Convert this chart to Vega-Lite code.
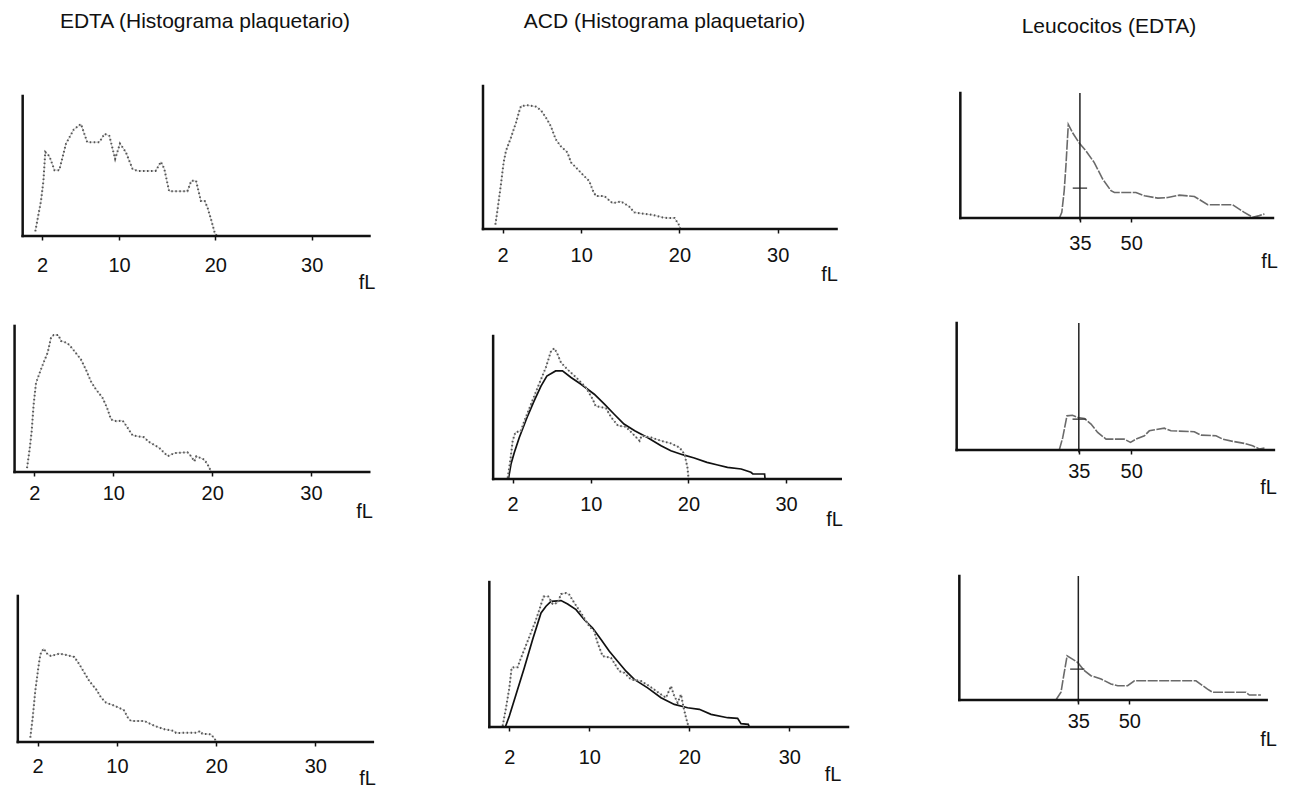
{
"$schema": "https://vega.github.io/schema/vega-lite/v6.json",
"background": "white",
"padding": {"left": 12, "top": 11, "right": 5, "bottom": 0},
"columns": 3,
"align": "each",
"bounds": "flush",
"spacing": {"row": 80, "column": 116},
"config": {
  "view": {"stroke": null},
  "font": "Liberation Sans",
  "axis": {"grid": false, "domain": false, "labelFont": "Liberation Sans", "labelFontSize": 20, "labelColor": "#111", "titleFont": "Liberation Sans", "titleFontSize": 20, "titleFontWeight": "normal", "titleColor": "#111", "tickColor": "#111", "tickWidth": 1.5, "tickSize": 4, "labelFlush": false, "labelOverlap": false},
  "axisX": {"titleAnchor": "end"},
  "title": {"font": "Liberation Sans", "fontSize": 21, "fontWeight": "normal", "color": "#111", "baseline": "alphabetic", "anchor": "middle", "frame": "group"}
},
"datasets": {
  "p1": [{"fL":1.31,"n":3.3},{"fL":1.9,"n":25},{"fL":2.15,"n":39},{"fL":2.35,"n":60},{"fL":2.77,"n":57},{"fL":3.3,"n":47},{"fL":3.8,"n":47},{"fL":4.5,"n":66},{"fL":5.3,"n":76},{"fL":6.05,"n":80},{"fL":6.7,"n":67},{"fL":7.96,"n":67},{"fL":8.5,"n":73},{"fL":9.0,"n":71.5},{"fL":9.6,"n":55},{"fL":10.1,"n":66},{"fL":10.7,"n":60},{"fL":11.4,"n":48},{"fL":11.9,"n":46.5},{"fL":13.8,"n":46.5},{"fL":14.35,"n":53},{"fL":14.7,"n":48},{"fL":15.2,"n":32},{"fL":17.1,"n":32},{"fL":17.5,"n":39.4},{"fL":18.0,"n":39.4},{"fL":18.5,"n":25},{"fL":18.9,"n":25},{"fL":19.2,"n":20},{"fL":19.55,"n":12},{"fL":19.97,"n":1.4},{"fL":20.2,"n":0}],
  "p2": [{"fL":1.26,"n":3},{"fL":1.49,"n":14},{"fL":1.83,"n":31.4},{"fL":2.1,"n":46.5},{"fL":2.34,"n":54.7},{"fL":2.85,"n":64},{"fL":3.36,"n":74.4},{"fL":3.7,"n":82.6},{"fL":3.87,"n":86},{"fL":4.55,"n":86.5},{"fL":5.4,"n":85.6},{"fL":5.9,"n":83},{"fL":6.4,"n":78},{"fL":6.9,"n":72},{"fL":7.4,"n":62.8},{"fL":7.9,"n":58},{"fL":8.6,"n":53.5},{"fL":8.96,"n":46.5},{"fL":9.47,"n":43},{"fL":10.3,"n":37},{"fL":10.8,"n":33.7},{"fL":11.2,"n":26.7},{"fL":11.5,"n":23},{"fL":12.36,"n":23},{"fL":13.2,"n":18},{"fL":14.05,"n":19.3},{"fL":14.9,"n":15.6},{"fL":15.4,"n":11.6},{"fL":17.3,"n":9.8},{"fL":18.3,"n":8.1},{"fL":18.8,"n":7.7},{"fL":19.5,"n":7.7},{"fL":19.9,"n":3.5},{"fL":20.1,"n":0}],
  "p3": [{"fL":29,"n":0},{"fL":29.7,"n":4.5},{"fL":30.4,"n":21.8},{"fL":30.9,"n":41.6},{"fL":31.6,"n":74.8},{"fL":32.9,"n":68},{"fL":34.8,"n":60},{"fL":36.8,"n":53.6},{"fL":39.2,"n":44.3},{"fL":41.7,"n":31},{"fL":44.1,"n":21.8},{"fL":45.1,"n":20.4},{"fL":51.4,"n":20.4},{"fL":53.9,"n":17.8},{"fL":57.8,"n":15.9},{"fL":60.7,"n":16.4},{"fL":64.1,"n":18.3},{"fL":68.5,"n":17.2},{"fL":72.4,"n":10.6},{"fL":79.7,"n":10.6},{"fL":83.1,"n":4.5},{"fL":85.6,"n":0.5},{"fL":87.5,"n":1.9},{"fL":89,"n":3.2}],
  "p4": [{"fL":1.26,"n":2.7},{"fL":1.5,"n":14.2},{"fL":1.73,"n":27.9},{"fL":1.93,"n":46.2},{"fL":2.17,"n":61},{"fL":2.6,"n":69},{"fL":3.0,"n":76},{"fL":3.35,"n":81.7},{"fL":3.69,"n":92},{"fL":3.96,"n":93.8},{"fL":4.43,"n":93.8},{"fL":4.7,"n":89.7},{"fL":5.2,"n":88.6},{"fL":5.54,"n":87},{"fL":6.05,"n":82.8},{"fL":6.72,"n":77},{"fL":7.23,"n":70},{"fL":7.73,"n":62},{"fL":8.24,"n":56.5},{"fL":8.9,"n":50.8},{"fL":9.36,"n":44},{"fL":9.76,"n":36},{"fL":10.3,"n":34.8},{"fL":10.94,"n":35.2},{"fL":11.45,"n":30.2},{"fL":11.95,"n":25},{"fL":13.1,"n":23.8},{"fL":13.6,"n":20.6},{"fL":14.65,"n":16.5},{"fL":15.5,"n":10.8},{"fL":16.2,"n":13},{"fL":17.5,"n":13.5},{"fL":17.86,"n":10.8},{"fL":18.2,"n":7.3},{"fL":18.4,"n":10.8},{"fL":19.2,"n":8.5},{"fL":19.55,"n":5},{"fL":19.8,"n":1.6},{"fL":19.95,"n":0}],
  "p5dot": [{"fL":1.49,"n":0.7},{"fL":1.76,"n":12.8},{"fL":2.0,"n":26.7},{"fL":2.27,"n":32.6},{"fL":2.85,"n":33.7},{"fL":3.2,"n":40.7},{"fL":3.88,"n":52.3},{"fL":4.56,"n":64},{"fL":5.4,"n":78},{"fL":5.93,"n":89.5},{"fL":6.27,"n":91.4},{"fL":6.6,"n":87.2},{"fL":6.95,"n":81.4},{"fL":7.6,"n":76.7},{"fL":8.5,"n":71},{"fL":9.5,"n":64},{"fL":10.2,"n":55.8},{"fL":10.5,"n":51},{"fL":11.56,"n":49.5},{"fL":12.1,"n":43},{"fL":12.8,"n":37.2},{"fL":13.6,"n":36.5},{"fL":14.5,"n":30.2},{"fL":15.0,"n":26.7},{"fL":15.2,"n":30.2},{"fL":16.2,"n":29},{"fL":17.2,"n":26.7},{"fL":18.2,"n":24.9},{"fL":19.1,"n":22},{"fL":19.6,"n":17.4},{"fL":19.9,"n":8.1},{"fL":20.0,"n":1.2}],
  "p5fit": [{"fL":1.56,"n":0},{"fL":1.83,"n":10.5},{"fL":2.17,"n":18.6},{"fL":2.68,"n":29},{"fL":3.54,"n":44.2},{"fL":4.2,"n":54.6},{"fL":4.9,"n":65},{"fL":5.5,"n":72},{"fL":6.4,"n":75.6},{"fL":7.1,"n":75.6},{"fL":7.98,"n":71},{"fL":9.0,"n":66.3},{"fL":9.68,"n":62.8},{"fL":10.36,"n":59.3},{"fL":11.4,"n":52.3},{"fL":12.4,"n":45.3},{"fL":13.4,"n":38.4},{"fL":14.5,"n":33.7},{"fL":15.8,"n":29},{"fL":17.2,"n":23.3},{"fL":18.2,"n":19.8},{"fL":19.4,"n":17},{"fL":20.6,"n":14.7},{"fL":21.9,"n":11.6},{"fL":23.0,"n":9.8},{"fL":24,"n":8.1},{"fL":25.4,"n":7},{"fL":26.4,"n":4.7},{"fL":26.6,"n":3.5},{"fL":27.8,"n":3.5},{"fL":27.85,"n":0}],
  "p6": [{"fL":29.4,"n":0},{"fL":30.4,"n":9.9},{"fL":31.6,"n":26.9},{"fL":33.2,"n":27.4},{"fL":34.7,"n":25.6},{"fL":36.6,"n":24.8},{"fL":38.5,"n":20.4},{"fL":40.4,"n":13.8},{"fL":42.8,"n":8.6},{"fL":48,"n":8.6},{"fL":49.8,"n":6},{"fL":51.4,"n":8.6},{"fL":53.8,"n":11.2},{"fL":55.2,"n":15.1},{"fL":59.5,"n":17.2},{"fL":61.4,"n":15.1},{"fL":68.1,"n":14.4},{"fL":70,"n":11.7},{"fL":74.3,"n":11.2},{"fL":76.2,"n":8.6},{"fL":79.1,"n":6.8},{"fL":82.4,"n":5.2},{"fL":84.8,"n":3.4},{"fL":86.7,"n":0.8},{"fL":88.2,"n":1.6}],
  "p7": [{"fL":1.26,"n":3},{"fL":1.5,"n":16.7},{"fL":1.76,"n":35},{"fL":2.07,"n":51},{"fL":2.27,"n":60},{"fL":2.6,"n":64},{"fL":3.0,"n":60},{"fL":3.34,"n":58.9},{"fL":4.18,"n":60.5},{"fL":5.0,"n":59.4},{"fL":5.7,"n":58.2},{"fL":6.2,"n":53.2},{"fL":6.7,"n":47.5},{"fL":7.2,"n":41.8},{"fL":7.9,"n":36},{"fL":8.4,"n":30.4},{"fL":8.9,"n":26.9},{"fL":9.56,"n":25.3},{"fL":10.2,"n":23.5},{"fL":10.7,"n":21.7},{"fL":11.1,"n":16.7},{"fL":11.4,"n":14.4},{"fL":12.75,"n":14.4},{"fL":13.8,"n":11},{"fL":14.8,"n":8.7},{"fL":15.8,"n":7.5},{"fL":15.95,"n":6.2},{"fL":18,"n":6.4},{"fL":18.4,"n":7.5},{"fL":18.6,"n":5.7},{"fL":19.5,"n":5.2},{"fL":20,"n":0.7}],
  "p8dot": [{"fL":1.33,"n":0.7},{"fL":1.67,"n":13.3},{"fL":2.0,"n":27},{"fL":2.23,"n":40.8},{"fL":2.5,"n":41.3},{"fL":2.83,"n":41.3},{"fL":3.17,"n":47.7},{"fL":3.83,"n":59.2},{"fL":4.67,"n":74},{"fL":5.43,"n":90},{"fL":5.9,"n":90},{"fL":6.33,"n":84.9},{"fL":6.83,"n":85.6},{"fL":7.17,"n":91.7},{"fL":7.67,"n":92.4},{"fL":8.0,"n":91.3},{"fL":8.5,"n":85.6},{"fL":9.17,"n":78.7},{"fL":10.0,"n":69.5},{"fL":10.5,"n":66},{"fL":10.83,"n":58},{"fL":11.33,"n":48.9},{"fL":12.17,"n":47.7},{"fL":13.0,"n":38.5},{"fL":13.5,"n":37.4},{"fL":14.17,"n":32.8},{"fL":15.17,"n":31.7},{"fL":16.0,"n":28.2},{"fL":17.17,"n":22.5},{"fL":17.67,"n":20.2},{"fL":18.17,"n":28.2},{"fL":18.43,"n":22.5},{"fL":18.83,"n":16.7},{"fL":19.17,"n":22.5},{"fL":19.43,"n":13.3},{"fL":19.67,"n":6.4},{"fL":19.9,"n":0.7}],
  "p8fit": [{"fL":1.6,"n":0},{"fL":2.0,"n":7.6},{"fL":2.67,"n":22.5},{"fL":3.5,"n":40.8},{"fL":4.33,"n":60.3},{"fL":5.17,"n":78.7},{"fL":5.67,"n":83.3},{"fL":6.17,"n":86.7},{"fL":7.17,"n":87.2},{"fL":7.83,"n":84.9},{"fL":8.67,"n":81},{"fL":9.5,"n":74},{"fL":10.33,"n":68.3},{"fL":11.17,"n":60.3},{"fL":12.0,"n":52.3},{"fL":12.83,"n":45.4},{"fL":13.67,"n":38.5},{"fL":14.5,"n":32.8},{"fL":15.83,"n":27},{"fL":17.17,"n":20.2},{"fL":18.5,"n":15.6},{"fL":19.83,"n":13.3},{"fL":21,"n":12.2},{"fL":22.17,"n":8.7},{"fL":23.83,"n":6.4},{"fL":24.83,"n":6},{"fL":25.17,"n":2.3},{"fL":25.9,"n":1.8},{"fL":26,"n":0}],
  "p9": [{"fL":28.4,"n":0},{"fL":29.9,"n":6.2},{"fL":30.7,"n":19.6},{"fL":31.7,"n":35.7},{"fL":32.8,"n":33.8},{"fL":34.8,"n":30.3},{"fL":36.8,"n":23.6},{"fL":38.7,"n":19.6},{"fL":41.7,"n":16.9},{"fL":44.6,"n":12.9},{"fL":46.6,"n":11.5},{"fL":49.5,"n":11.5},{"fL":51.5,"n":15.5},{"fL":60.3,"n":15.5},{"fL":69.6,"n":15.5},{"fL":73,"n":8.8},{"fL":74.5,"n":6.2},{"fL":84.3,"n":6.2},{"fL":85.3,"n":4},{"fL":88.7,"n":4}],
  "m3": [{"fL":32.9,"fL2":37.1,"n":23.9}],
  "m6": [{"fL":33.2,"fL2":37.1,"n":24.3}],
  "m9": [{"fL":32.6,"fL2":36.8,"n":24.9}]
},
"concat": [
  {"width": 352.5, "height": 155,
   "title": {"text": "EDTA (Histograma plaquetario)", "offset": 49, "dx": 14.75},
   "layer": [
    {"data": {"name": "p1"}, "mark": {"type": "line", "color": "#c8c8c8", "strokeWidth": 1},
     "encoding": {"x": {"field": "fL", "type": "quantitative", "scale": {"domain": [-0.9, 35.69], "nice": false, "zero": false}, "axis": {"values": [2, 10, 20, 30], "labelPadding": 15.5, "titlePadding": -3, "titleAlign": "center", "title": "fL"}},
                  "y": {"field": "n", "type": "quantitative", "scale": {"domain": [0, 110.7], "nice": false, "zero": false}, "axis": null}}},
    {"data": {"name": "p1"}, "mark": {"type": "line", "color": "#555", "strokeWidth": 2, "strokeDash": [1.5, 2.5]},
     "encoding": {"x": {"field": "fL", "type": "quantitative"}, "y": {"field": "n", "type": "quantitative", "axis": null}}},
    {"data": {"values": [{}]}, "mark": {"type": "rule", "color": "#111", "strokeWidth": 2.5, "strokeCap": "square"},
     "encoding": {"x": {"datum": 0, "type": "quantitative"}, "y": {"datum": 0, "type": "quantitative", "axis": null}, "y2": {"datum": 100}}},
    {"data": {"values": [{}]}, "mark": {"type": "rule", "color": "#111", "strokeWidth": 2.5, "strokeCap": "square"},
     "encoding": {"x": {"datum": 0, "type": "quantitative"}, "x2": {"datum": 36}, "y": {"datum": 0, "type": "quantitative", "axis": null}}}
   ]},
  {"width": 346, "height": 148,
   "title": {"text": "ACD (Histograma plaquetario)", "offset": 49, "dx": 8.5},
   "layer": [
    {"data": {"name": "p2"}, "mark": {"type": "line", "color": "#c8c8c8", "strokeWidth": 1},
     "encoding": {"x": {"field": "fL", "type": "quantitative", "scale": {"domain": [0, 35.23], "nice": false, "zero": false}, "axis": {"values": [2, 10, 20, 30], "labelPadding": 12.5, "titlePadding": -1, "titleAlign": "center", "title": "fL"}},
                  "y": {"field": "n", "type": "quantitative", "scale": {"domain": [0, 103.5], "nice": false, "zero": false}, "axis": null}}},
    {"data": {"name": "p2"}, "mark": {"type": "line", "color": "#555", "strokeWidth": 2, "strokeDash": [1.5, 2.5]},
     "encoding": {"x": {"field": "fL", "type": "quantitative"}, "y": {"field": "n", "type": "quantitative", "axis": null}}},
    {"data": {"values": [{}]}, "mark": {"type": "rule", "color": "#111", "strokeWidth": 2.5, "strokeCap": "square"},
     "encoding": {"x": {"datum": 0, "type": "quantitative"}, "y": {"datum": 0, "type": "quantitative", "axis": null}, "y2": {"datum": 100}}},
    {"data": {"values": [{}]}, "mark": {"type": "rule", "color": "#111", "strokeWidth": 2.5, "strokeCap": "square"},
     "encoding": {"x": {"datum": 0, "type": "quantitative"}, "x2": {"datum": 36}, "y": {"datum": 0, "type": "quantitative", "axis": null}}}
   ]},
  {"width": 312, "height": 137,
   "title": {"text": "Leucocitos (EDTA)", "offset": 44, "dx": -4},
   "layer": [
    {"data": {"name": "p3"}, "mark": {"type": "line", "color": "#6a6a6a", "strokeWidth": 1.6, "strokeDash": [10, 1.5]},
     "encoding": {"x": {"field": "fL", "type": "quantitative", "scale": {"domain": [-0.975, 90.34], "nice": false, "zero": false}, "axis": {"values": [35, 50], "labelPadding": 11.5, "titlePadding": -2, "titleAlign": "center", "title": "fL"}},
                  "y": {"field": "n", "type": "quantitative", "scale": {"domain": [0, 109.6], "nice": false, "zero": false}, "axis": null}}},
    {"data": {"name": "m3"}, "mark": {"type": "rule", "color": "#333", "strokeWidth": 1.3},
     "encoding": {"x": {"field": "fL", "type": "quantitative"}, "x2": {"field": "fL2"}, "y": {"field": "n", "type": "quantitative", "axis": null}}},
    {"data": {"values": [{}]}, "mark": {"type": "rule", "color": "#222", "strokeWidth": 1.5},
     "encoding": {"x": {"datum": 35, "type": "quantitative"}, "y": {"datum": -2, "type": "quantitative", "axis": null}, "y2": {"datum": 100}}},
    {"data": {"values": [{}]}, "mark": {"type": "rule", "color": "#111", "strokeWidth": 2.5, "strokeCap": "square"},
     "encoding": {"x": {"datum": 0, "type": "quantitative"}, "y": {"datum": 0, "type": "quantitative", "axis": null}, "y2": {"datum": 100}}},
    {"data": {"values": [{}]}, "mark": {"type": "rule", "color": "#111", "strokeWidth": 2.5, "strokeCap": "square"},
     "encoding": {"x": {"datum": 0, "type": "quantitative"}, "x2": {"datum": 91.5}, "y": {"datum": 0, "type": "quantitative", "axis": null}}}
   ]},
  {"width": 350, "height": 156,
   "layer": [
    {"data": {"name": "p4"}, "mark": {"type": "line", "color": "#c8c8c8", "strokeWidth": 1},
     "encoding": {"x": {"field": "fL", "type": "quantitative", "scale": {"domain": [-0.058, 35.37], "nice": false, "zero": false}, "axis": {"values": [2, 10, 20, 30], "labelPadding": 7.5, "titlePadding": -2, "titleAlign": "center", "title": "fL"}},
                  "y": {"field": "n", "type": "quantitative", "scale": {"domain": [0, 106.8], "nice": false, "zero": false}, "axis": null}}},
    {"data": {"name": "p4"}, "mark": {"type": "line", "color": "#555", "strokeWidth": 2, "strokeDash": [1.5, 2.5]},
     "encoding": {"x": {"field": "fL", "type": "quantitative"}, "y": {"field": "n", "type": "quantitative", "axis": null}}},
    {"data": {"values": [{}]}, "mark": {"type": "rule", "color": "#111", "strokeWidth": 2.5, "strokeCap": "square"},
     "encoding": {"x": {"datum": 0, "type": "quantitative"}, "y": {"datum": 0, "type": "quantitative", "axis": null}, "y2": {"datum": 100}}},
    {"data": {"values": [{}]}, "mark": {"type": "rule", "color": "#111", "strokeWidth": 2.5, "strokeCap": "square"},
     "encoding": {"x": {"datum": 0, "type": "quantitative"}, "x2": {"datum": 35.9}, "y": {"datum": 0, "type": "quantitative", "axis": null}}}
   ]},
  {"width": 351, "height": 163,
   "layer": [
    {"data": {"name": "p5fit"}, "mark": {"type": "line", "color": "#111", "strokeWidth": 1.7},
     "encoding": {"x": {"field": "fL", "type": "quantitative", "scale": {"domain": [-1.038, 34.91], "nice": false, "zero": false}, "axis": {"values": [2, 10, 20, 30], "labelPadding": 11.5, "titlePadding": -5, "titleAlign": "center", "title": "fL"}},
                  "y": {"field": "n", "type": "quantitative", "scale": {"domain": [0, 114.0], "nice": false, "zero": false}, "axis": null}}},
    {"data": {"name": "p5dot"}, "mark": {"type": "line", "color": "#c8c8c8", "strokeWidth": 1},
     "encoding": {"x": {"field": "fL", "type": "quantitative"}, "y": {"field": "n", "type": "quantitative", "axis": null}}},
    {"data": {"name": "p5dot"}, "mark": {"type": "line", "color": "#555", "strokeWidth": 2, "strokeDash": [1.5, 2.5]},
     "encoding": {"x": {"field": "fL", "type": "quantitative"}, "y": {"field": "n", "type": "quantitative", "axis": null}}},
    {"data": {"values": [{}]}, "mark": {"type": "rule", "color": "#111", "strokeWidth": 2.5, "strokeCap": "square"},
     "encoding": {"x": {"datum": 0, "type": "quantitative"}, "y": {"datum": 0, "type": "quantitative", "axis": null}, "y2": {"datum": 100}}},
    {"data": {"values": [{}]}, "mark": {"type": "rule", "color": "#111", "strokeWidth": 2.5, "strokeCap": "square"},
     "encoding": {"x": {"datum": 0, "type": "quantitative"}, "x2": {"datum": 35.6}, "y": {"datum": 0, "type": "quantitative", "axis": null}}}
   ]},
  {"width": 311, "height": 134,
   "layer": [
    {"data": {"name": "p6"}, "mark": {"type": "line", "color": "#6a6a6a", "strokeWidth": 1.6, "strokeDash": [10, 1.5]},
     "encoding": {"x": {"field": "fL", "type": "quantitative", "scale": {"domain": [0.095, 89.21], "nice": false, "zero": false}, "axis": {"values": [35, 50], "labelPadding": 7.5, "titlePadding": -4, "titleAlign": "center", "title": "fL"}},
                  "y": {"field": "n", "type": "quantitative", "scale": {"domain": [0, 105.5], "nice": false, "zero": false}, "axis": null}}},
    {"data": {"name": "m6"}, "mark": {"type": "rule", "color": "#333", "strokeWidth": 1.3},
     "encoding": {"x": {"field": "fL", "type": "quantitative"}, "x2": {"field": "fL2"}, "y": {"field": "n", "type": "quantitative", "axis": null}}},
    {"data": {"values": [{}]}, "mark": {"type": "rule", "color": "#222", "strokeWidth": 1.5},
     "encoding": {"x": {"datum": 35, "type": "quantitative"}, "y": {"datum": -2, "type": "quantitative", "axis": null}, "y2": {"datum": 100}}},
    {"data": {"values": [{}]}, "mark": {"type": "rule", "color": "#111", "strokeWidth": 2.5, "strokeCap": "square"},
     "encoding": {"x": {"datum": 0, "type": "quantitative"}, "y": {"datum": 0, "type": "quantitative", "axis": null}, "y2": {"datum": 100}}},
    {"data": {"values": [{}]}, "mark": {"type": "rule", "color": "#111", "strokeWidth": 2.5, "strokeCap": "square"},
     "encoding": {"x": {"datum": 0, "type": "quantitative"}, "x2": {"datum": 90.9}, "y": {"datum": 0, "type": "quantitative", "axis": null}}}
   ]},
  {"width": 353, "height": 183,
   "layer": [
    {"data": {"name": "p7"}, "mark": {"type": "line", "color": "#c8c8c8", "strokeWidth": 1},
     "encoding": {"x": {"field": "fL", "type": "quantitative", "scale": {"domain": [-0.386, 35.21], "nice": false, "zero": false}, "axis": {"values": [2, 10, 20, 30], "labelPadding": 10.5, "titlePadding": -8, "titleAlign": "center", "title": "fL"}},
                  "y": {"field": "n", "type": "quantitative", "scale": {"domain": [0, 125.3], "nice": false, "zero": false}, "axis": null}}},
    {"data": {"name": "p7"}, "mark": {"type": "line", "color": "#555", "strokeWidth": 2, "strokeDash": [1.5, 2.5]},
     "encoding": {"x": {"field": "fL", "type": "quantitative"}, "y": {"field": "n", "type": "quantitative", "axis": null}}},
    {"data": {"values": [{}]}, "mark": {"type": "rule", "color": "#111", "strokeWidth": 2.5, "strokeCap": "square"},
     "encoding": {"x": {"datum": 0, "type": "quantitative"}, "y": {"datum": 0, "type": "quantitative", "axis": null}, "y2": {"datum": 100}}},
    {"data": {"values": [{}]}, "mark": {"type": "rule", "color": "#111", "strokeWidth": 2.5, "strokeCap": "square"},
     "encoding": {"x": {"datum": 0, "type": "quantitative"}, "x2": {"datum": 35.8}, "y": {"datum": 0, "type": "quantitative", "axis": null}}}
   ]},
  {"width": 358, "height": 168,
   "layer": [
    {"data": {"name": "p8fit"}, "mark": {"type": "line", "color": "#111", "strokeWidth": 1.7},
     "encoding": {"x": {"field": "fL", "type": "quantitative", "scale": {"domain": [-0.633, 35.17], "nice": false, "zero": false}, "axis": {"values": [2, 10, 20, 30], "labelPadding": 16.5, "titlePadding": -3, "titleAlign": "right", "title": "fL"}},
                  "y": {"field": "n", "type": "quantitative", "scale": {"domain": [0, 115.9], "nice": false, "zero": false}, "axis": null}}},
    {"data": {"name": "p8dot"}, "mark": {"type": "line", "color": "#c8c8c8", "strokeWidth": 1},
     "encoding": {"x": {"field": "fL", "type": "quantitative"}, "y": {"field": "n", "type": "quantitative", "axis": null}}},
    {"data": {"name": "p8dot"}, "mark": {"type": "line", "color": "#555", "strokeWidth": 2, "strokeDash": [1.5, 2.5]},
     "encoding": {"x": {"field": "fL", "type": "quantitative"}, "y": {"field": "n", "type": "quantitative", "axis": null}}},
    {"data": {"values": [{}]}, "mark": {"type": "rule", "color": "#111", "strokeWidth": 2.5, "strokeCap": "square"},
     "encoding": {"x": {"datum": 0, "type": "quantitative"}, "y": {"datum": 0, "type": "quantitative", "axis": null}, "y2": {"datum": 100}}},
    {"data": {"values": [{}]}, "mark": {"type": "rule", "color": "#111", "strokeWidth": 2.5, "strokeCap": "square"},
     "encoding": {"x": {"datum": 0, "type": "quantitative"}, "x2": {"datum": 35.87}, "y": {"datum": 0, "type": "quantitative", "axis": null}}}
   ]},
  {"width": 311, "height": 141,
   "layer": [
    {"data": {"name": "p9"}, "mark": {"type": "line", "color": "#6a6a6a", "strokeWidth": 1.6, "strokeDash": [10, 1.5]},
     "encoding": {"x": {"field": "fL", "type": "quantitative", "scale": {"domain": [-0.685, 90.79], "nice": false, "zero": false}, "axis": {"values": [35, 50], "labelPadding": 7.5, "titlePadding": -2, "titleAlign": "center", "title": "fL"}},
                  "y": {"field": "n", "type": "quantitative", "scale": {"domain": [0, 113.7], "nice": false, "zero": false}, "axis": null}}},
    {"data": {"name": "m9"}, "mark": {"type": "rule", "color": "#333", "strokeWidth": 1.3},
     "encoding": {"x": {"field": "fL", "type": "quantitative"}, "x2": {"field": "fL2"}, "y": {"field": "n", "type": "quantitative", "axis": null}}},
    {"data": {"values": [{}]}, "mark": {"type": "rule", "color": "#222", "strokeWidth": 1.5},
     "encoding": {"x": {"datum": 35, "type": "quantitative"}, "y": {"datum": -2, "type": "quantitative", "axis": null}, "y2": {"datum": 100}}},
    {"data": {"values": [{}]}, "mark": {"type": "rule", "color": "#111", "strokeWidth": 2.5, "strokeCap": "square"},
     "encoding": {"x": {"datum": 0, "type": "quantitative"}, "y": {"datum": 0, "type": "quantitative", "axis": null}, "y2": {"datum": 100}}},
    {"data": {"values": [{}]}, "mark": {"type": "rule", "color": "#111", "strokeWidth": 2.5, "strokeCap": "square"},
     "encoding": {"x": {"datum": 0, "type": "quantitative"}, "x2": {"datum": 90.4}, "y": {"datum": 0, "type": "quantitative", "axis": null}}}
   ]}
]
}
